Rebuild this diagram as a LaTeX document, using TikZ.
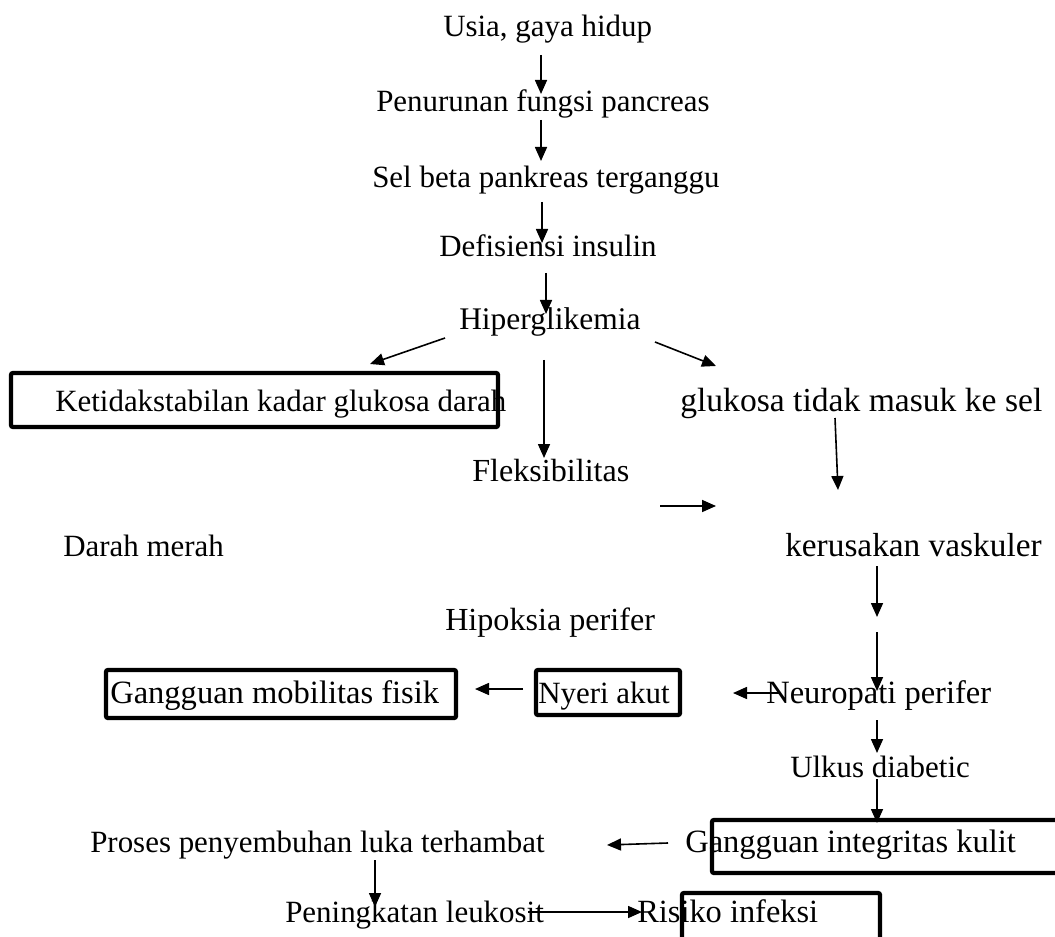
\documentclass[tikz,border=0pt]{standalone}
\usepackage{fontspec}
\setmainfont{Liberation Serif}
\usetikzlibrary{arrows.meta}

\tikzset{
  txt/.style = {anchor=base west, inner sep=0pt, font=\fontsize{23.2}{28}\selectfont},
  sz/.style = {font=\fontsize{#1}{30}\selectfont},
  box/.style = {line width=3.2pt, rounded corners=1.5pt},
  arr/.style = {line width=1.2pt, -{Triangle[length=10.5pt,width=9pt]}}
}

\begin{document}
\begin{tikzpicture}[x=0.75pt, y=-0.75pt]
\useasboundingbox (0,0) rectangle (1055,937);
\clip (0,0) rectangle (1055,937);

% texts
\path (443,37) node[txt] (usia) {Usia, gaya hidup};
\path (376,112) node[txt] (turun) {Penurunan fungsi pancreas};
\path (372,188) node[txt] (beta) {Sel beta pankreas terganggu};
\path (439,257) node[txt] (defis) {Defisiensi insulin};
\path (459,330) node[txt, sz=23.6] (hiper) {Hiperglikemia};
\path (55,411) node[txt] (ketidak) {Ketidakstabilan kadar glukosa darah};
\path (680,411) node[txt, sz=25.2] (glukosa) {glukosa tidak masuk ke sel};
\path (472,481) node[txt, sz=24.1] (fleks) {Fleksibilitas};
\path (63,556) node[txt] (darah) {Darah merah};
\path (785,556) node[txt, sz=25] (vaskuler) {kerusakan vaskuler};
\path (445,630) node[txt, sz=24.1] (hipoksia) {Hipoksia perifer};
\path (110,703) node[txt, sz=24.4] (mobilitas) {Gangguan mobilitas fisik};
\path (538,703) node[txt] (nyeri) {Nyeri akut};
\path (766,703) node[txt, sz=24.4] (neuro) {Neuropati perifer};
\path (790,777) node[txt] (ulkus) {Ulkus diabetic};
\path (685,852) node[txt, sz=24.4] (integritas) {Gangguan integritas kulit};
\path (90,852) node[txt] (proses) {Proses penyembuhan luka terhambat};
\path (285,922) node[txt] (leukosit) {Peningkatan leukosit};
\path (637,922) node[txt, sz=24.3] (infeksi) {Risiko infeksi};

% boxes
\draw[box] (11,373) rectangle (498,427);
\draw[box] (106,670) rectangle (456,718);
\draw[box] (536,670) rectangle (680,715);
\draw[box] (712,820) rectangle (1070,873);
\draw[box] (682,893) rectangle (880,950);

% arrow ends
\coordinate (a1) at (541,55);   \coordinate (b1) at (541,94);
\coordinate (a2) at (541,120);  \coordinate (b2) at (541,161);
\coordinate (a3) at (542,202);  \coordinate (b3) at (542,243);
\coordinate (a4) at (546,273);  \coordinate (b4) at (546,314);
\coordinate (a5) at (445,338);  \coordinate (b5) at (370,364);
\coordinate (a6) at (544,360);  \coordinate (b6) at (544,458);
\coordinate (a7) at (655,342);  \coordinate (b7) at (716,366);
\coordinate (a8) at (835,418);  \coordinate (b8) at (838,490);
\coordinate (a9) at (660,506);  \coordinate (b9) at (716,506);
\coordinate (a10) at (877,566); \coordinate (b10) at (877,617);
\coordinate (a11) at (877,632); \coordinate (b11) at (877,691);
\coordinate (a12) at (780,693); \coordinate (b12) at (733,693);
\coordinate (a13) at (523,689); \coordinate (b13) at (475,689);
\coordinate (a14) at (877,720); \coordinate (b14) at (877,753);
\coordinate (a15) at (877,779); \coordinate (b15) at (877,823);
\coordinate (a16) at (668,843); \coordinate (b16) at (607,845);
\coordinate (a17) at (375,860); \coordinate (b17) at (375,907);
\coordinate (a18) at (528,912); \coordinate (b18) at (642,912);

\foreach \i in {1,...,18}
  \draw[arr] (a\i) -- (b\i);
\end{tikzpicture}
\end{document}
